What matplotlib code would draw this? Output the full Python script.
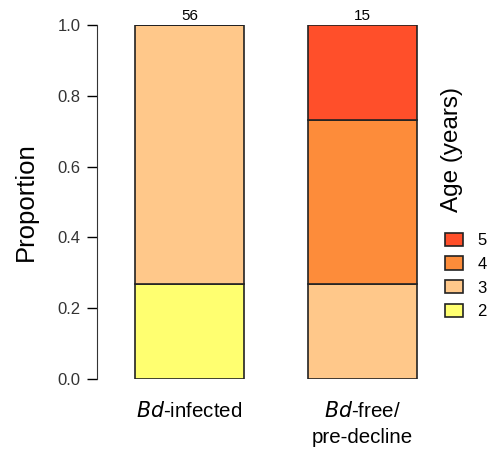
import matplotlib
matplotlib.use("Agg")
import matplotlib.pyplot as plt
from matplotlib.patches import Patch

plt.rcParams['font.family'] = ['Liberation Sans', 'DejaVu Sans']

# --- Dados ---
grupos = ['infected', 'free']
rotulos_x = [r'$\it{Bd}$-infected', r'$\it{Bd}$-free/' + '\npre-decline']
n_total = [56, 15]
idades = ['2', '3', '4', '5']
# proporcoes por idade (linhas) em cada grupo (colunas)
proporcoes = {
    '2': [0.268, 0.0],
    '3': [0.732, 0.267],
    '4': [0.0, 0.466],
    '5': [0.0, 0.267],
}
cores = {'2': '#FFFF70', '3': '#FFC88A', '4': '#FD8C3A', '5': '#FF4F2A'}

fig = plt.figure(figsize=(4.91, 4.53), dpi=100)
ax = fig.add_axes([97 / 491, 74 / 453, 343 / 491, 354 / 453])

x = [0, 1]
base = [0.0, 0.0]
for idade in idades:
    vals = proporcoes[idade]
    ax.bar(x, vals, bottom=base, width=0.63, color=cores[idade],
           edgecolor='#222222', linewidth=1.2)
    base = [b + v for b, v in zip(base, vals)]

for xi, n, topo in zip(x, n_total, base):
    ax.text(xi, topo + 0.005, str(n), ha='center', va='bottom', fontsize=11)

ax.set_xlim(-0.535, 1.448)
ax.set_ylim(0, 1.0)
ax.set_yticks([0.0, 0.2, 0.4, 0.6, 0.8, 1.0])
ax.set_yticklabels(['0.0', '0.2', '0.4', '0.6', '0.8', '1.0'], fontsize=12, color='#333333')
ax.set_xticks(x)
ax.set_xticklabels(rotulos_x, fontsize=14.8, linespacing=1.45)
ax.tick_params(axis='x', length=0, pad=16)
ax.tick_params(axis='y', length=7, width=1, pad=5)
for lado in ['top', 'right', 'bottom']:
    ax.spines[lado].set_visible(False)
ax.spines['left'].set_color('#333333')
ax.set_ylabel('Proportion', fontsize=18.5)
ax.yaxis.set_label_coords((38 - 97) / 343, 0.5)

# Legenda
alcas = [Patch(facecolor=cores[i], edgecolor='#222222', linewidth=1.2, label=i)
         for i in idades[::-1]]
leg = fig.legend(handles=alcas, loc='center left', bbox_to_anchor=(445 / 491, (453 - 276) / 453),
                 frameon=False, fontsize=12, handlelength=1.08, handleheight=0.85,
                 handletextpad=0.85, labelspacing=0.5, borderpad=0, borderaxespad=0)
fig.text(452 / 491, (453 - 150) / 453, 'Age (years)', rotation=90, ha='center', va='center',
         fontsize=17.5)

fig.savefig('out.png', dpi=100)
